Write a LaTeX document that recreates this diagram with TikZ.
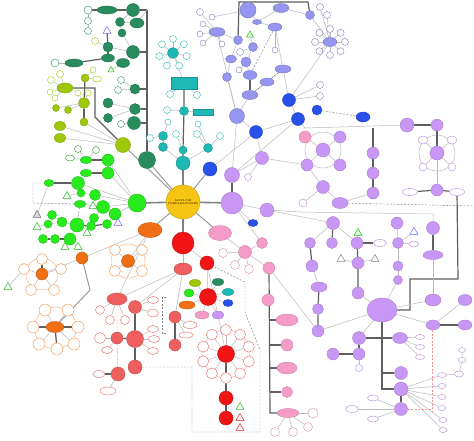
\documentclass[tikz,border=0pt]{standalone}
\usetikzlibrary{shapes.geometric}
\definecolor{cY}{RGB}{247,196,20}
\definecolor{cG}{RGB}{40,235,30}
\definecolor{cDG}{RGB}{40,140,95}
\definecolor{cYG}{RGB}{160,200,10}
\definecolor{cCY}{RGB}{30,185,180}
\definecolor{cBL}{RGB}{40,80,235}
\definecolor{cPW}{RGB}{150,150,240}
\definecolor{cLV}{RGB}{200,150,245}
\definecolor{cPK}{RGB}{245,155,200}
\definecolor{cRD}{RGB}{240,20,20}
\definecolor{cSM}{RGB}{240,95,95}
\definecolor{cOR}{RGB}{240,110,20}
\definecolor{cLN}{RGB}{185,185,185}
\definecolor{cTK}{RGB}{95,95,95}
\pgfdeclarelayer{back}
\pgfdeclarelayer{bg}
\pgfsetlayers{back,bg,main}
\tikzset{
 nb/.style={circle,inner sep=0pt,line width=0.4pt},
 fY/.style={nb,fill=cY,draw=cY!80!black},
 fG/.style={nb,fill=cG,draw=cG!80!black},
 fDG/.style={nb,fill=cDG,draw=cDG!80!black},
 fYG/.style={nb,fill=cYG,draw=cYG!80!black},
 fCY/.style={nb,fill=cCY,draw=cCY!80!black},
 fBL/.style={nb,fill=cBL,draw=cBL!80!black},
 fPW/.style={nb,fill=cPW,draw=cPW!80!black},
 fLV/.style={nb,fill=cLV,draw=cLV!85!black},
 fPK/.style={nb,fill=cPK,draw=cPK!85!black},
 fRD/.style={nb,fill=cRD,draw=cRD!80!black},
 fSM/.style={nb,fill=cSM,draw=cSM!80!black},
 fOR/.style={nb,fill=cOR,draw=cOR!80!black},
 oG/.style={nb,fill=white,draw=cG!70!black},
 oDG/.style={nb,fill=white,draw=cDG},
 oYG/.style={nb,fill=white,draw=cYG},
 oCY/.style={nb,fill=white,draw=cCY},
 oPW/.style={nb,fill=white,draw=cPW!80!black},
 oLV/.style={nb,fill=white,draw=cLV!90!black},
 oPK/.style={nb,fill=white,draw=cPK!90!black},
 oRD/.style={nb,fill=white,draw=cSM},
 oOR/.style={nb,fill=white,draw=cOR!80},
 ln/.style={draw=cLN,line width=0.5pt},
 lm/.style={draw=cLN!80!black,line width=0.9pt},
 tk/.style={draw=cTK,line width=1.2pt},
 sp/.style={draw=gray,line width=1.6pt},
 dsh/.style={draw=gray,line width=0.45pt,dash pattern=on 2pt off 1.5pt},
 rdsh/.style={draw=cSM!70,line width=0.45pt,dash pattern=on 2pt off 1.5pt},
 tri/.style={regular polygon,regular polygon sides=3,inner sep=0pt,minimum size=9pt,fill=white,line width=0.5pt},
 rbox/.style={rectangle,inner sep=0pt,fill=cCY,draw=cCY!80!black,line width=0.4pt}
}
\newcommand\myC[5]{\node[#4,minimum size=#5pt] (#1) at (#2,#3) {};}
\newcommand\myE[6]{\node[#4,ellipse,minimum width=#5pt,minimum height=#6pt] (#1) at (#2,#3) {};}
\begin{document}
\begin{tikzpicture}[x=1pt,y=-1pt]
\useasboundingbox (0,0) rectangle (474,440);
\begin{pgfonlayer}{back}
\fill[white] (0,0) rectangle (474,440);
\end{pgfonlayer}
% ---------------- hubs
\node[fY,minimum size=34pt,font=\fontsize{2.6}{3}\selectfont,align=center] (C) at (183,202) {LISTA DE\\PREPARACIONES};
\myC{G}{137}{203}{fG}{18}
\myC{DG}{147}{160}{fDG}{17}
\myC{YG}{123}{145}{fYG}{15}
\myC{CY}{183}{163}{fCY}{14}
\myC{BLh}{210}{169}{fBL}{14}
\myC{LVs}{232}{175}{fLV}{15}
\myC{LV}{232}{203}{fLV}{22}
\myE{PK}{220}{233}{fPK}{23}{15}
\myC{RD}{183}{243}{fRD}{22}
\myE{OR}{150}{230}{fOR}{24}{15}
% ---------------- dark green
\coordinate (dgTop) at (147,10);
\myC{dg1}{133}{10}{fDG}{13}
\myE{dg2}{107}{10}{fDG}{20}{8}
\myC{ow1}{88}{10}{oDG}{8}
\myC{ow2}{88}{21}{oDG}{7}
\myC{ow3}{88}{31}{oDG}{7}
\myC{dg3}{120}{22}{fDG}{9}
\myE{dg4}{137}{23}{fDG}{14}{10}
\myC{dg5}{122}{33}{fDG}{8}
\myC{dg6}{133}{52}{fDG}{13}
\myC{dg7}{108}{47}{fDG}{10}
\myE{dg8}{108}{58}{fDG}{13}{8}
\myE{dg9}{123}{63}{fDG}{13}{9}
\myC{owA}{95}{41}{oYG}{7}
\myE{dg10}{74}{63}{fDG}{18}{8}
\myC{ow4}{55}{63}{oDG}{8}
\myC{dg11}{135}{89}{fDG}{10}
\myC{ow5}{121}{80}{oDG}{7}
\myC{ow6}{118}{90}{oDG}{7}
\myC{dg12}{135}{109}{fDG}{11}
\myC{dg13}{108}{103}{fDG}{10}
\myC{dg14}{108}{118}{fDG}{9}
\myC{dg15}{134}{123}{fDG}{13}
\myC{ow7}{121}{124}{oDG}{7}
\node[tri,draw=blue!60] (t1) at (107,31) {};
\node[tri,draw=cG!80!black,minimum size=7pt] (t2) at (111,70) {};
% ---------------- yellow green
\myE{yg1}{65}{88}{fYG}{16}{10}
\myC{yw1}{51}{80}{oYG}{7}
\myC{yw2}{60}{74}{oYG}{7}
\myC{yw3}{50}{92}{oYG}{6}
\myC{yw4}{55}{98}{oYG}{6}
\myC{yg2}{85}{78}{fYG}{8}
\myC{yw5}{93}{70}{oYG}{6}
\myE{yw6}{97}{79}{oYG}{9}{6}
\myC{yg3}{84}{103}{fYG}{11}
\myC{yw7}{78}{93}{oYG}{6}
\myC{yw8}{88}{93}{oYG}{6}
\myC{yg4}{56}{108}{fYG}{7}
\myC{yg5}{68}{110}{fYG}{7}
\myC{yg6}{84}{122}{fYG}{8}
\myE{yg7}{60}{126}{fYG}{12}{9}
\myE{yg8}{60}{138}{fYG}{12}{9}
% ---------------- cyan
\myC{cy1}{173}{53}{fCY}{11}
\foreach \i in {0,...,6} \node[oCY,minimum size=7pt] (cw\i) at ({173+14*cos(\i*51.4-90)},{53+14*sin(\i*51.4-90)}) {};
\node[rbox,minimum width=26pt,minimum height=12pt] (cyR) at (184,83) {};
\myC{cy2}{184}{111}{fCY}{9}
\node[rbox,minimum width=20pt,minimum height=6pt] (cyR2) at (203,112) {};
\myC{cw7}{170}{94}{oCY}{7}
\myC{cw8}{197}{95}{oCY}{7}
\myC{cw9}{167}{110}{oCY}{7}
\myC{cw10}{168}{122}{oCY}{6}
\myC{cy3}{183}{150}{fCY}{8}
\myC{cy4}{163}{136}{fCY}{9}
\myC{cy5}{163}{147}{fCY}{9}
\myC{cy6}{208}{148}{fCY}{9}
\myC{cw11}{150}{138}{oCY}{7}
\myC{cw12}{176}{134}{oCY}{7}
\myC{cw13}{197}{134}{oCY}{7}
\myC{cw14}{220}{136}{oCY}{7}
\myC{cw15}{198}{124}{oCY}{6}
% ---------------- blue
\myC{bl2}{256}{132}{fBL}{13}
\myC{bl3}{289}{100}{fBL}{13}
\myC{bl4}{298}{119}{fBL}{13}
\myC{bl5}{317}{110}{fBL}{10}
\myE{bl6}{363}{117}{fBL}{14}{10}
\myE{bl7}{253}{223}{fBL}{10}{7}
\myC{bw1}{320}{85}{oPW}{7}
\myC{bw2}{320}{96}{oPW}{7}
% ---------------- periwinkle
\myC{pw1}{248}{10}{fPW}{16}
\myE{pw2}{281}{8}{fPW}{16}{9}
\myC{pw3}{310}{15}{fPW}{9}
\myE{pw4}{257}{22}{fPW}{9}{5}
\myE{pw5}{275}{27}{fPW}{14}{8}
\myE{pw6}{217}{32}{fPW}{16}{9}
\myC{pw7}{238}{40}{fPW}{9}
\myC{pw8}{253}{47}{fPW}{9}
\myE{pw9}{231}{59}{fPW}{11}{8}
\myC{pw10}{246}{62}{fPW}{10}
\myE{pw11}{250}{75}{fPW}{14}{9}
\myC{pw12}{227}{77}{fPW}{9}
\myE{pw13}{267}{82}{fPW}{14}{8}
\myE{pw14}{283}{69}{fPW}{16}{8}
\myE{pw15}{250}{95}{fPW}{16}{9}
\myC{pw16}{237}{116}{fPW}{15}
\node[tri,draw=cG!80!black,fill=cG!15,minimum size=8pt] (t3) at (250,35) {};
\myC{pa1}{200}{12}{oPW}{7}
\myC{pa2}{212}{17}{oPW}{6}
\myC{pa3}{203}{24}{oPW}{6}
\myC{pa4}{200}{34}{oPW}{6}
\myC{pa5}{203}{43}{oPW}{6}
\myC{pa6}{222}{44}{oPW}{6}
\myC{pa7}{240}{52}{oPW}{7}
\myC{pa8}{239}{70}{oPW}{6}
\myC{pa9}{275}{50}{oPW}{6}
\myE{pwR}{330}{42}{fPW}{14}{9}
\foreach \i in {0,...,7} \node[oPW,minimum size=7pt] (pr\i) at ({330+15*cos(\i*45-90)},{42+13*sin(\i*45-90)}) {};
\myC{pr8}{320}{7}{oPW}{7}
\myC{pr9}{327}{15}{oPW}{7}
% ---------------- lavender
\myC{lv1}{262}{158}{fLV}{13}
\myC{lw1}{248}{177}{oLV}{7}
\myC{lv2}{267}{210}{fLV}{14}
\myC{pk2}{305}{137}{fPK}{12}
\myC{lv3}{323}{150}{fLV}{14}
\myC{lv4}{340}{137}{fLV}{12}
\myC{lv5}{307}{165}{fLV}{12}
\myC{lv6}{340}{165}{fLV}{12}
\myC{lv7}{323}{187}{fLV}{13}
\myE{lv8}{340}{203}{fLV}{16}{11}
\myC{lw2}{303}{203}{oLV}{8}
\myC{lv9}{373}{153}{fLV}{12}
\myC{lv10}{373}{173}{fLV}{12}
\myC{lv11}{373}{193}{fLV}{12}
\myC{lv12}{407}{125}{fLV}{14}
\myC{lv13}{437}{125}{fLV}{12}
\myC{lv14}{437}{153}{fLV}{14}
\myE{lw3}{423}{140}{oLV}{10}{8}
\myE{lw4}{452}{140}{oLV}{10}{8}
\myC{lw5}{423}{167}{oLV}{8}
\myC{lw6}{452}{167}{oLV}{8}
\myC{lv15}{437}{190}{fLV}{12}
\myE{lw7}{410}{192}{oLV}{15}{7}
\myE{lw8}{457}{192}{oLV}{15}{7}
\myC{lv16}{333}{223}{fLV}{13}
\myC{lv17}{310}{243}{fLV}{11}
\myC{lv18}{332}{243}{fLV}{11}
\myC{lv19}{357}{243}{fLV}{12}
\myE{lw9}{380}{243}{oLV}{13}{7}
\myC{lv20}{397}{223}{fLV}{12}
\myC{lv21}{398}{243}{fLV}{11}
\myE{lw10}{414}{244}{oLV}{9}{6}
\myC{lv22}{433}{228}{fLV}{13}
\myC{lv23}{358}{263}{fLV}{12}
\myC{lv24}{358}{293}{fLV}{12}
\myC{lv25}{398}{266}{fLV}{10}
\myC{lv26}{398}{280}{fLV}{9}
\myC{lv27}{312}{266}{fLV}{12}
\myE{lv28}{319}{287}{fLV}{16}{10}
\myC{lv29}{318}{309}{fLV}{11}
\myC{lv30}{318}{331}{fLV}{12}
\myE{lv31}{433}{255}{fLV}{20}{9}
\myE{LVB}{382}{310}{fLV}{30}{24}
\myE{lv32}{433}{300}{fLV}{16}{12}
\myE{lv33}{465}{300}{fLV}{14}{11}
\myE{lv34}{433}{325}{fLV}{14}{10}
\myE{lv35}{465}{325}{fLV}{14}{10}
\myC{lv36}{359}{338}{fLV}{13}
\myC{lv37}{359}{354}{fLV}{12}
\myC{lw11}{359}{368}{oLV}{7}
\myC{lv38}{333}{354}{fLV}{12}
\myE{lv39}{400}{338}{fLV}{15}{11}
\myE{lw12}{420}{337}{oLV}{9}{5}
\myE{lw13}{420}{347}{oLV}{9}{5}
\myE{lw14}{420}{357}{oLV}{9}{5}
\myC{lv40}{401}{373}{fLV}{13}
\myC{lv41}{401}{389}{fLV}{14}
\myC{lv42}{401}{409}{fLV}{13}
\myE{lw15}{352}{409}{oLV}{13}{7}
\myE{lw16}{373}{398}{oLV}{11}{6}
\myE{lw17}{373}{419}{oLV}{11}{6}
\myE{lx1}{442}{375}{oLV}{9}{5}
\myE{lx2}{442}{386}{oLV}{8}{5}
\myE{lx3}{442}{397}{oLV}{8}{5}
\myE{lx4}{442}{408}{oLV}{8}{5}
\myE{lx5}{443}{420}{oLV}{8}{5}
\myE{lx6}{443}{430}{oLV}{8}{5}
\myE{lx7}{459}{374}{oLV}{9}{6}
\myE{lx8}{462}{360}{oLV}{8}{5}
\myE{lx9}{462}{350}{oLV}{7}{5}
\node[tri,draw=cG!80!black,fill=cG!15] (t4) at (358,233) {};
\node[tri,draw=blue!60] (t5) at (414,232) {};
\node[tri,draw=gray] (t6) at (341,259) {};
\node[tri,draw=gray] (t7) at (375,259) {};
% ---------------- pink
\myC{pk3}{245}{252}{fPK}{13}
\myC{pk4}{262}{243}{fPK}{11}
\myC{pw_1}{223}{253}{oPK}{9}
\myC{pw_2}{235}{265}{oPK}{9}
\myC{pw_3}{249}{269}{oPK}{9}
\myC{pk5}{269}{268}{fPK}{12}
\myC{pk6}{268}{300}{fPK}{12}
\myE{pk7}{287}{320}{fPK}{22}{12}
\myC{pk8}{287}{345}{fPK}{12}
\myE{pk9}{287}{368}{fPK}{20}{12}
\myC{pk10}{287}{392}{fPK}{11}
\myE{pk11}{288}{413}{fPK}{22}{9}
\myC{pw_4}{313}{413}{oPK}{10}
\myC{pw_5}{275}{432}{oPK}{9}
\myC{pw_6}{293}{432}{oPK}{9}
\myC{pw_7}{308}{427}{oPK}{9}
% ---------------- red
\myC{rd2}{207}{263}{fRD}{14}
\myE{sm1}{183}{269}{fSM}{18}{12}
\myC{rd3}{208}{297}{fRD}{17}
\myE{k1}{195}{283}{fYG}{12}{7}
\myE{k2}{218}{282}{fDG}{12}{7}
\myE{k3}{189}{293}{fG}{10}{8}
\myE{k4}{228}{292}{fCY}{12}{7}
\myE{k5}{187}{305}{fOR}{16}{8}
\myE{k6}{228}{303}{fBL}{10}{7}
\myE{k7}{202}{315}{fPK}{14}{8}
\myE{k8}{218}{315}{fLV}{12}{8}
\myC{sm2}{175}{317}{fSM}{12}
\myC{sm3}{175}{345}{fSM}{12}
\myE{rw1}{190}{325}{oRD}{14}{7}
\myE{rw2}{186}{335}{oRD}{14}{6}
\myC{rd4}{226}{354}{fRD}{17}
\foreach \i in {0,...,9} \node[oRD,minimum size=11pt] (rr\i) at ({226+24*cos(\i*36-90)},{354+24*sin(\i*36-90)}) {};
\myC{rd5}{226}{398}{fRD}{14}
\myC{rd6}{226}{418}{fRD}{14}
\node[tri,draw=cG!80!black] (t8) at (240,407) {};
\node[tri,draw=cRD] (t9) at (240,418) {};
\node[tri,draw=cRD] (t10) at (240,428) {};
\myE{sm4}{117}{299}{fSM}{20}{12}
\myC{sm5}{135}{307}{fSM}{13}
\myC{sm6}{117}{338}{fSM}{12}
\myC{sm7}{135}{339}{fSM}{17}
\myC{sm8}{135}{367}{fSM}{14}
\myC{sm9}{118}{374}{fSM}{14}
\myC{sw1}{100}{310}{oRD}{9}
\myC{sw2}{110}{320}{oRD}{9}
\myC{sw3}{125}{320}{oRD}{9}
\myE{sw4}{153}{300}{oRD}{11}{7}
\myE{sw5}{153}{313}{oRD}{11}{8}
\myE{sw6}{153}{329}{oRD}{11}{7}
\myE{sw7}{154}{339}{oRD}{11}{7}
\myE{sw8}{153}{351}{oRD}{11}{7}
\node[diamond,nb,fill=white,draw=cSM,minimum size=11pt] (sw9) at (100,338) {};
\myE{sw10}{107}{350}{oRD}{11}{7}
\myE{sw11}{99}{374}{oRD}{12}{7}
\myE{sw12}{108}{391}{oRD}{16}{8}
% ---------------- orange
\myC{or2}{82}{258}{fOR}{12}
\myC{orC1}{42}{274}{fOR}{12}
\myC{oa1}{42}{259}{oOR}{11}
\myC{oa2}{24}{269}{oOR}{11}
\myC{oa3}{61}{269}{oOR}{11}
\myC{oa4}{31}{290}{oOR}{11}
\myC{oa5}{54}{290}{oOR}{11}
\myC{orC2}{128}{261}{fOR}{13}
\myC{ob1}{115}{250}{oOR}{11}
\myC{ob2}{142}{250}{oOR}{11}
\myC{ob3}{115}{271}{oOR}{11}
\myC{ob4}{142}{271}{oOR}{11}
\myE{orC3}{55}{327}{fOR}{18}{11}
\myC{oc1}{45}{310}{oOR}{12}
\myC{oc2}{68}{310}{oOR}{12}
\myC{oc3}{33}{327}{oOR}{12}
\myC{oc4}{78}{327}{oOR}{12}
\myC{oc5}{39}{344}{oOR}{12}
\myC{oc6}{57}{349}{oOR}{12}
\myC{oc7}{74}{344}{oOR}{12}
\node[tri,draw=cG!80!black] (t11) at (8,287) {};
% ---------------- green
\myC{g1}{108}{160}{fG}{12}
\myC{g2}{108}{173}{fG}{12}
\myE{g3}{86}{160}{fG}{12}{7}
\myE{g4}{86}{173}{fG}{12}{7}
\myC{gw1}{96}{150}{oG}{7}
\myC{gw2}{78}{149}{oG}{7}
\myE{gw3}{70}{158}{oG}{9}{6}
\myC{g5}{78}{183}{fG}{13}
\myE{g6}{49}{183}{fG}{10}{7}
\myC{g7}{95}{195}{fG}{11}
\myC{g8}{81}{193}{fG}{8}
\myE{g9}{80}{204}{fG}{12}{7}
\myC{g10}{103}{207}{fG}{13}
\myC{g11}{115}{214}{fG}{12}
\myC{g12}{94}{218}{fG}{9}
\myC{g13}{77}{225}{fG}{14}
\myC{g14}{52}{215}{fG}{9}
\myC{g15}{62}{222}{fG}{10}
\myC{g16}{48}{224}{fG}{8}
\myC{g17}{91}{226}{fG}{9}
\myC{g18}{107}{224}{fG}{9}
\myC{g19}{43}{239}{fG}{9}
\myC{g20}{55}{239}{fG}{9}
\myC{g21}{70}{239}{fG}{12}
\node[tri,draw=cG!80!black] (t12) at (67,196) {};
\node[tri,draw=cG!80!black] (t13) at (93,206) {};
\node[tri,draw=gray!80!black,fill=gray!30] (t14) at (37,215) {};
\node[tri,draw=cG!80!black] (t15) at (37,227) {};
\node[tri,draw=cG!80!black] (t16) at (87,233) {};
\node[tri,draw=cG!80!black] (t17) at (65,247) {};
\node[tri,draw=cG!80!black] (t18) at (78,247) {};
\node[tri,draw=blue!60] (t19) at (118,223) {};
% ================= connectors
\begin{pgfonlayer}{bg}
\draw[sp] (C) -- (G); \draw[sp] (C) -- (LV); \draw[sp] (C) -- (CY); \draw[sp] (C) -- (RD);
\foreach \a/\b in {C/DG,C/YG,C/BLh,C/PK,C/OR} \draw[lm] (\a) -- (\b);
\draw[tk] (LV) -- (LVs);
% dark green
\draw[tk] (dgTop) -- (DG);
\draw[tk] (dgTop) -- (dg1); \draw[tk] (dg1) -- (dg2); \draw[tk] (dg2) -- (ow1);
\draw[tk] (147,52) -- (dg6); \draw[tk] (147,89) -- (dg11); \draw[tk] (147,109) -- (dg12); \draw[tk] (147,123) -- (dg15);
\draw[tk] (dg7) -- (dg8); \draw[tk] (dg7) -- (t1); \draw[tk] (dg8) -- (dg10);
\foreach \a/\b in {ow1/ow2,ow2/ow3,dg3/dg4,dg4/dgTop,dg5/dg6,dg3/dg5,dg6/dg7,dg6/dg9,dg10/ow4,dg7/owA,dg11/ow5,dg11/ow6,dg12/dg13,dg12/dg14,dg15/ow7,dg9/t2,dg1/dg3} \draw[ln] (\a) -- (\b);
% yellow green
\draw[tk] (yg1) -- (95,88) -- (95,117) -- (YG);
\draw[tk] (yg2) -- (yg3); \draw[tk] (yg3) -- (yg6);
\foreach \a/\b in {yg1/yw1,yg1/yw2,yg1/yw3,yg1/yw4,yg2/yw5,yg2/yw6,yg3/yw7,yg3/yw8,yg3/yg4,yg3/yg5,yg6/YG,yg7/YG,yg8/YG} \draw[ln] (\a) -- (\b);
% cyan
\draw[tk] (cyR) -- (cy2) -- (cy3) -- (CY);
\foreach \i in {0,...,6} \draw[ln] (cy1) -- (cw\i);
\foreach \a/\b in {cy1/cyR,cy2/cyR2,cy2/cw9,cyR/cw7,cyR/cw8,cy4/cw11,cy4/cw10,cy4/cy5,cy5/CY,cy6/CY,cy6/cw13,cy6/cw14,cy3/cw12,cy6/cw15} \draw[ln] (\a) -- (\b);
% blue / periwinkle
\foreach \a/\b in {BLh/bl2,bl2/bl4,bl3/bl4,bl4/LVs,bl2/pw16,bl3/pw14,pwR/bl3,pwR/pw3,bw1/bl3,bw2/bl3,pwR/pr8,pwR/pr9} \draw[ln] (\a) -- (\b);
\foreach \i in {0,...,7} \draw[ln] (pwR) -- (pr\i);
\draw[dsh] (bl5) -- (bl6);
\draw[tk] (pw7) -- (239,2) -- (308,2) -- (pw3);
\draw[tk] (pw11) -- (pw15);
\foreach \a/\b in {pw1/pw4,pw2/pw4,pw2/pw3,pw4/pw5,pw1/pa2,pw6/pa1,pw6/pa3,pw6/pa4,pw6/pa5,pw6/pa6,pw6/pw16,pw7/pw9,pw8/pw10,pw9/pw12,pw10/pw11,pw8/pa7,pw10/pa8,pw13/pw15,pw14/pw13,pw5/pa9,pw12/pw16,pw15/pw16,pw16/LVs,pw6/pw7,pw8/t3,pw14/pw5} \draw[ln] (\a) -- (\b);
\draw[dsh] (pw5) -- (pw11); \draw[dsh] (pw14) -- (pw15);
% lavender
\foreach \a/\b in {LV/lv2,LVs/lv1,lv1/lw1,lv1/bl2,lv1/lv5,lv5/lv7,lv7/lv8,lv7/lw2,lv3/lv4,lv3/lv5,lv3/lv6,lv3/pk2,lv8/lv11,lv14/lv15,LV/bl7} \draw[ln] (\a) -- (\b);
\draw[ln] (323,150) circle[radius=18pt];
\draw[ln] (437,153) circle[radius=18pt];
\foreach \a in {lw3,lw4,lw5,lw6} \draw[ln] (lv14) -- (\a);
\draw[ln] (bl4) -- (305,128) -- (lv12);
\draw[tk] (373,128) -- (lv9) -- (lv10) -- (lv11);
\draw[tk] (lv12) -- (lv13) -- (lv14);
\draw[tk] (lw7) -- (lv15) -- (lw8);
\draw[ln] (lv2) -- (300,212) -- (433,214) -- (lv22);
\draw[dsh] (lv8) -- (474,206);
\draw[tk] (lv16) -- (lv18); \draw[tk] (lv17) -- (lv27);
\draw[tk] (lv19) -- (lv23) -- (lv24);
\draw[tk] (lv22) -- (lv31);
\draw[tk] (lv28) -- (lv29) -- (lv30);
\draw[tk] (lv34) -- (lv35);
\draw[tk] (lv36) -- (lv39); \draw[tk] (lv36) -- (lv37) -- (lv38);
\draw[tk] (LVB) -- (410,310) -- (410,279) -- (458,279) -- (lw8);
\draw[tk] (LVB) -- (382,389) -- (lv41);
\draw[tk] (382,373) -- (lv40);
\draw[tk] (lv41) -- (lv42);
\draw[tk] (lv19) -- (lw9);
\foreach \a/\b in {lv16/lv17,lv16/lv19,lv16/lv2,lv20/lv21,lv21/lv25,lv25/lv26,lv21/lw10,lv21/t5,lv19/t4,lv23/t6,lv23/t7,lv27/lv28,lv24/LVB,lv26/LVB,lv30/LVB,LVB/lv32,LVB/lv34,lv34/lv33,lv31/lv32,lv37/lw11,lv39/lw12,lv39/lw13,lv39/lw14,lv42/lw15,lv42/lw16,lv42/lw17,lv30/pk5,lv36/LVB} \draw[ln] (\a) -- (\b);
\foreach \a in {lx1,lx2,lx3,lx4,lx5,lx6} \draw[ln] (lv41) -- (\a);
\draw[ln] (lx1) -- (lx7) -- (lx8) -- (lx9);
\draw[rdsh] (432,330) -- (432,412); \draw[rdsh] (lv42) -- (432,409);
% pink
\foreach \a/\b in {PK/pk3,pk3/pk4,pk3/pw_1,pk3/pw_2,pk3/pw_3,pk3/pk5,pk11/pw_4,pk11/pw_5,pk11/pw_6,pk11/pw_7,LV/pk4} \draw[ln] (\a) -- (\b);
\draw[tk] (pk5) -- (270,413) -- (pk11);
\foreach \a/\b in {pk7/320,pk8/345,pk9/368,pk10/392} \draw[tk] (270,\b) -- (\a);
% red
\foreach \a/\b in {RD/rd2,RD/sm1,rd2/rd3,rd2/rd4,sm1/sm2,sm2/rw1,sm2/rw2,sm1/sm4,sm1/sm5,rd3/k1,rd3/k2,rd3/k3,rd3/k4,rd3/k5,rd3/k6,rd3/k7,rd3/k8} \draw[ln] (\a) -- (\b);
\draw[tk] (sm2) -- (sm3);
\draw[draw=cSM!60,line width=0.4pt] (226,354) circle[radius=24pt];
\foreach \i in {0,...,9} \draw[ln] (rd4) -- (rr\i);
\draw[tk] (rd4) -- (rd5) -- (rd6);
\draw[dsh] (sm8) -- (192,367) -- (192,432) -- (260,432) -- (260,350) -- (245,312) -- (245,282) -- (rd2);
\draw[dsh] (166,297) -- (162,297) -- (162,333) -- (166,333);
\draw[tk] (sm5) -- (sm7) -- (sm8);
\draw[tk] (sm6) -- (sm7);
\draw[tk] (sm9) -- (sw11);
\draw[rdsh] (sm4) -- (sm6) -- (sm9);
\foreach \a/\b in {sm4/sw1,sm4/sw2,sm4/sw3,sm5/sw4,sm5/sw5,sm7/sw6,sm7/sw7,sm7/sw8,sm6/sw9,sm6/sw10,sm9/sw12} \draw[ln] (\a) -- (\b);
% orange
\foreach \a/\b in {OR/or2,OR/orC2,or2/orC1,OR/sm4} \draw[ln] (\a) -- (\b);
\draw[lm] (or2) -- (90,290) -- (orC3);
\draw[draw=cOR!60,line width=0.4pt] (42,274) circle[radius=16pt];
\draw[draw=cOR!60,line width=0.4pt] (128,261) circle[radius=17pt];
\draw[draw=cOR!60,line width=0.4pt] (55.5,328) circle[radius=21pt];
\foreach \a in {oa1,oa2,oa3,oa4,oa5} \draw[ln] (orC1) -- (\a);
\foreach \a in {ob1,ob2,ob3,ob4} \draw[ln] (orC2) -- (\a);
\foreach \a in {oc1,oc2,oc3,oc4,oc5,oc6,oc7} \draw[ln] (orC3) -- (\a);
\draw[tk] (orC1) -- (oa1); \draw[tk] (orC3) -- (oc6); \draw[tk] (oc3) -- (orC3) -- (oc4);
\draw[ln] (oa2) -- (t11);
% green
\foreach \a/\b in {G/g2,G/g5,G/g7,G/g10,G/g11,g3/gw1,g3/gw2,g3/gw3,g1/g2,g5/g8,g8/g7,g10/g12,g12/g13,g13/g15,g15/g14,g15/g16,g11/t19,g8/t12,g9/t13,g6/t14,g16/t15,g17/t16,g21/t17,g21/t18,g11/g18,G/g1} \draw[ln] (\a) -- (\b);
\draw[tk] (g3) -- (g1); \draw[tk] (g4) -- (g2); \draw[tk] (g6) -- (g5);
\draw[tk] (g13) -- (g17) -- (g18); \draw[tk] (g19) -- (g20) -- (g21); \draw[ln] (g13) -- (g21);
\draw[dsh] (g6) -- (33,183) -- (33,203) -- (g9);
\draw[dsh] (g9) -- (g13);
\end{pgfonlayer}
\end{tikzpicture}
\end{document}
